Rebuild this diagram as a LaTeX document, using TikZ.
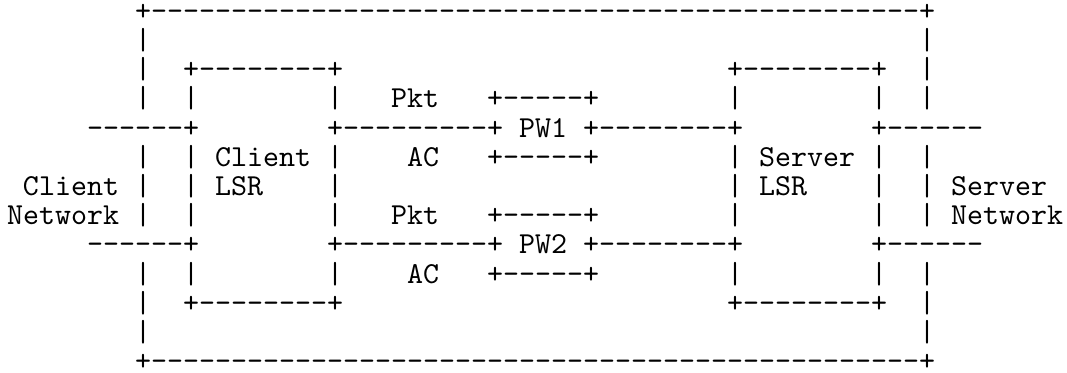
\documentclass[tikz,border=0pt]{standalone}
\usepackage{fontspec}
\newfontfamily\asciifont{lmmono10-regular.otf}
\usetikzlibrary{positioning}

\begin{document}
\begin{tikzpicture}[x=8pt, y=-14.6pt,
    ascii/.style={anchor=base west, inner sep=0pt, outer sep=0pt,
      font=\asciifont\fontsize{15.24}{14.6}\selectfont}]
    \useasboundingbox (-3.5pt,10.15pt) rectangle (530pt,-176.35pt);

    % Outer box
    \node[ascii] (outertop) at (8,0) {+------------------------------------------------+};
    \node[ascii] (outerbot) at (8,12) {+------------------------------------------------+};
    \foreach \r in {1,2,3,5,6,7,9,10,11} {
        \node[ascii] (outerl\r) at (8,\r) {|};
        \node[ascii] (outerr\r) at (57,\r) {|};
    }

    % LSR boxes
    \node[ascii] (clienttop) at (11,2) {+--------+};
    \node[ascii] (clientbot) at (11,10) {+--------+};
    \node[ascii] (servertop) at (45,2) {+--------+};
    \node[ascii] (serverbot) at (45,10) {+--------+};
    \foreach \r in {3,5,6,7,9} {
        \node[ascii] (clientl\r) at (11,\r) {|};
        \node[ascii] (clientr\r) at (20,\r) {|};
        \node[ascii] (serverl\r) at (45,\r) {|};
        \node[ascii] (serverr\r) at (54,\r) {|};
    }
    \node[ascii] (clientname) at (13,5) {Client};
    \node[ascii] (clientlsr) at (13,6) {LSR};
    \node[ascii] (servername) at (47,5) {Server};
    \node[ascii] (serverlsr) at (47,6) {LSR};

    % Networks
    \node[ascii] (cnet1) at (1,6) {Client};
    \node[ascii] (cnet2) at (0,7) {Network};
    \node[ascii] (snet1) at (59,6) {Server};
    \node[ascii] (snet2) at (59,7) {Network};

    % Pseudowires
    \foreach \r/\n in {4/1, 8/2} {
        \node[ascii] (cin\n) at (5,\r) {------+};
        \node[ascii] (pw\n) at (20,\r) {+---------+ PW\n\ +--------+};
        \node[ascii] (sin\n) at (54,\r) {+------};
        \node[ascii] (pwtop\n) at (30,\r-1) {+-----+};
        \node[ascii] (pwbot\n) at (30,\r+1) {+-----+};
        \node[ascii] (pkt\n) at (24,\r-1) {Pkt};
        \node[ascii] (ac\n) at (25,\r+1) {AC};
    }
\end{tikzpicture}
\end{document}
